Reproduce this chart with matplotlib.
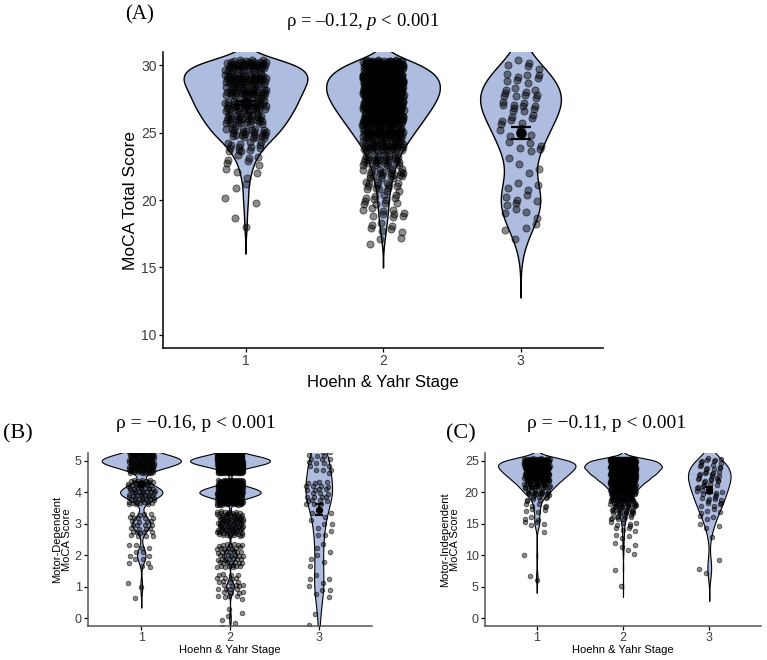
import numpy as np
import matplotlib
matplotlib.use('Agg')
import matplotlib.pyplot as plt

plt.rcParams['mathtext.fontset'] = 'custom'
plt.rcParams['mathtext.rm'] = 'Liberation Serif'
plt.rcParams['mathtext.it'] = 'Liberation Serif:italic'

stages = [1, 2, 3]

# (A) MoCA total score, number of patients per score and stage
total_scores = np.arange(17, 31)
total_s1 = [0, 1, 1, 2, 2, 4, 7, 14, 25, 32, 38, 42, 48, 45]
total_s2 = [3, 7, 10, 12, 15, 22, 30, 45, 65, 85, 105, 120, 120, 90]
total_s3 = [1, 3, 4, 6, 4, 2, 2, 6, 5, 7, 10, 10, 8, 5]

# (B) motor-dependent MoCA score
motor_scores = np.arange(0, 6)
motor_s1 = [0, 3, 14, 30, 70, 131]
motor_s2 = [6, 30, 50, 90, 240, 313]
motor_s3 = [2, 9, 7, 10, 26, 19]

# (C) motor-independent MoCA score
indep_scores = np.arange(5, 26)
indep_s1 = [0, 1, 1, 0, 0, 1, 0, 0, 0, 1, 4, 3, 4, 5, 8, 18, 25, 35, 45, 55, 55]
indep_s2 = [1, 0, 0, 1, 0, 1, 2, 2, 3, 4, 6, 10, 16, 22, 32, 45, 65, 95, 125, 150, 135]
indep_s3 = [0, 0, 1, 1, 1, 0, 0, 0, 1, 1, 2, 3, 4, 5, 6, 7, 7, 9, 9, 8, 8]

titles = ['ρ = –0.12, $p$ < 0.001', 'ρ = −0.16, p < 0.001', 'ρ = −0.11, p < 0.001']

violin_fill = '#AEBCDF'
tick_grey = '#3c3c3c'


def nrd0(x):
    sd = np.std(x, ddof=1)
    q75, q25 = np.percentile(x, [75, 25])
    iqr = (q75 - q25) / 1.34
    lo = min(sd, iqr) if iqr > 0 else sd
    return 0.9 * lo * len(x) ** -0.2


def kde(x):
    bw = nrd0(x)
    grid = np.linspace(x.min() - 3 * bw, x.max() + 3 * bw, 512)
    d = np.exp(-0.5 * ((grid[:, None] - x[None, :]) / bw) ** 2).sum(1)
    d = d / (len(x) * bw * np.sqrt(2 * np.pi))
    return grid, d


def draw_panel(ax, scores, counts, ylim, yticks, msize, lw, cap):
    groups = [np.repeat(scores, c).astype(float) for c in counts]
    dens = [kde(g) for g in groups]
    dmax = max(d.max() for _, d in dens)
    for k, (pos, (grid, d), g) in enumerate(zip(stages, dens, groups)):
        hw = 0.45 * d / dmax
        ax.fill_betweenx(grid, pos - hw, pos + hw, facecolor=violin_fill,
                         edgecolor='black', lw=lw, zorder=1)
        # deterministic jitter (R2 quasi-random sequence)
        i = np.arange(len(g)) + 37 * k
        u = (0.5 + i * 0.7548776662) % 1
        v = (0.5 + i * 0.5698402910) % 1
        ax.scatter(pos + (2 * u - 1) * 0.15, g + (2 * v - 1) * 0.4, s=msize,
                   facecolor=(0, 0, 0, 0.45), edgecolor=(0, 0, 0, 0.6),
                   linewidth=0.6, zorder=2)
        mean = g.mean()
        se = g.std(ddof=1) / np.sqrt(len(g))
        ax.errorbar(pos, mean, yerr=se, fmt='o', color='black', ms=np.sqrt(msize) * 1.3,
                    capsize=cap, elinewidth=1.2, capthick=1.6, zorder=4)
    ax.set_xlim(0.4, 3.6)
    ax.set_ylim(*ylim)
    ax.set_xticks(stages)
    ax.set_yticks(yticks)
    for s in ['top', 'right']:
        ax.spines[s].set_visible(False)


fig = plt.figure(figsize=(7.67, 6.60), dpi=100)
W, H = 767, 660


def add_axes(left, right, top, bottom):
    return fig.add_axes([left / W, 1 - bottom / H, (right - left) / W, (bottom - top) / H])


axA = add_axes(163, 603, 52, 348)
axB = add_axes(88, 372, 453, 626)
axC = add_axes(485, 761, 453, 626)

draw_panel(axA, total_scores, [total_s1, total_s2, total_s3], (9, 31), [10, 15, 20, 25, 30], 26, 1.0, 7)
draw_panel(axB, motor_scores, [motor_s1, motor_s2, motor_s3], (-0.25, 5.25), [0, 1, 2, 3, 4, 5], 11, 0.8, 3)
draw_panel(axC, indep_scores, [indep_s1, indep_s2, indep_s3], (-1.25, 26.25), [0, 5, 10, 15, 20, 25], 11, 0.8, 3)

for ax, fs, spine_c in [(axA, 10, 'black'), (axB, 9, '#555555'), (axC, 9, '#555555')]:
    ax.tick_params(length=3, width=0.9, labelsize=fs, labelcolor=tick_grey, pad=1.5)
    for s in ['left', 'bottom']:
        ax.spines[s].set_color(spine_c)
        ax.spines[s].set_linewidth(1.1)

sans = 'Liberation Sans'
for ax in [axA, axB, axC]:
    for lab in ax.get_xticklabels() + ax.get_yticklabels():
        lab.set_family(sans)

axA.set_ylabel('MoCA Total Score', family=sans, fontsize=12.5)
axA.yaxis.set_label_coords(-0.057, 0.5)
axA.set_xlabel('Hoehn & Yahr Stage', family=sans, fontsize=12)
axA.xaxis.set_label_coords(0.5, -0.09)

axB.set_ylabel('Motor-Dependent\nMoCA Score', family=sans, fontsize=8, linespacing=0.95)
axB.yaxis.set_label_coords(-0.056, 0.5)
axB.set_xlabel('Hoehn & Yahr Stage', family=sans, fontsize=8)
axB.xaxis.set_label_coords(0.5, -0.11)

axC.set_ylabel('Motor-Independent\nMoCA Score', family=sans, fontsize=8, linespacing=0.95)
axC.yaxis.set_label_coords(-0.09, 0.5)
axC.set_xlabel('Hoehn & Yahr Stage', family=sans, fontsize=8)
axC.xaxis.set_label_coords(0.5, -0.11)

serif = 'Liberation Serif'
fig.text(363 / W, 1 - 21 / H, titles[0], family=serif, fontsize=13.5, ha='center', va='center')
fig.text(196 / W, 1 - 423 / H, titles[1], family=serif, fontsize=14, ha='center', va='center')
fig.text(607 / W, 1 - 424 / H, titles[2], family=serif, fontsize=14, ha='center', va='center')
fig.text(140 / W, 1 - 15 / H, '(A)', family=serif, fontsize=15, ha='center', va='center')
fig.text(18 / W, 1 - 434 / H, '(B)', family=serif, fontsize=16, ha='center', va='center')
fig.text(461 / W, 1 - 434 / H, '(C)', family=serif, fontsize=16, ha='center', va='center')

fig.savefig('out.png', dpi=100)
